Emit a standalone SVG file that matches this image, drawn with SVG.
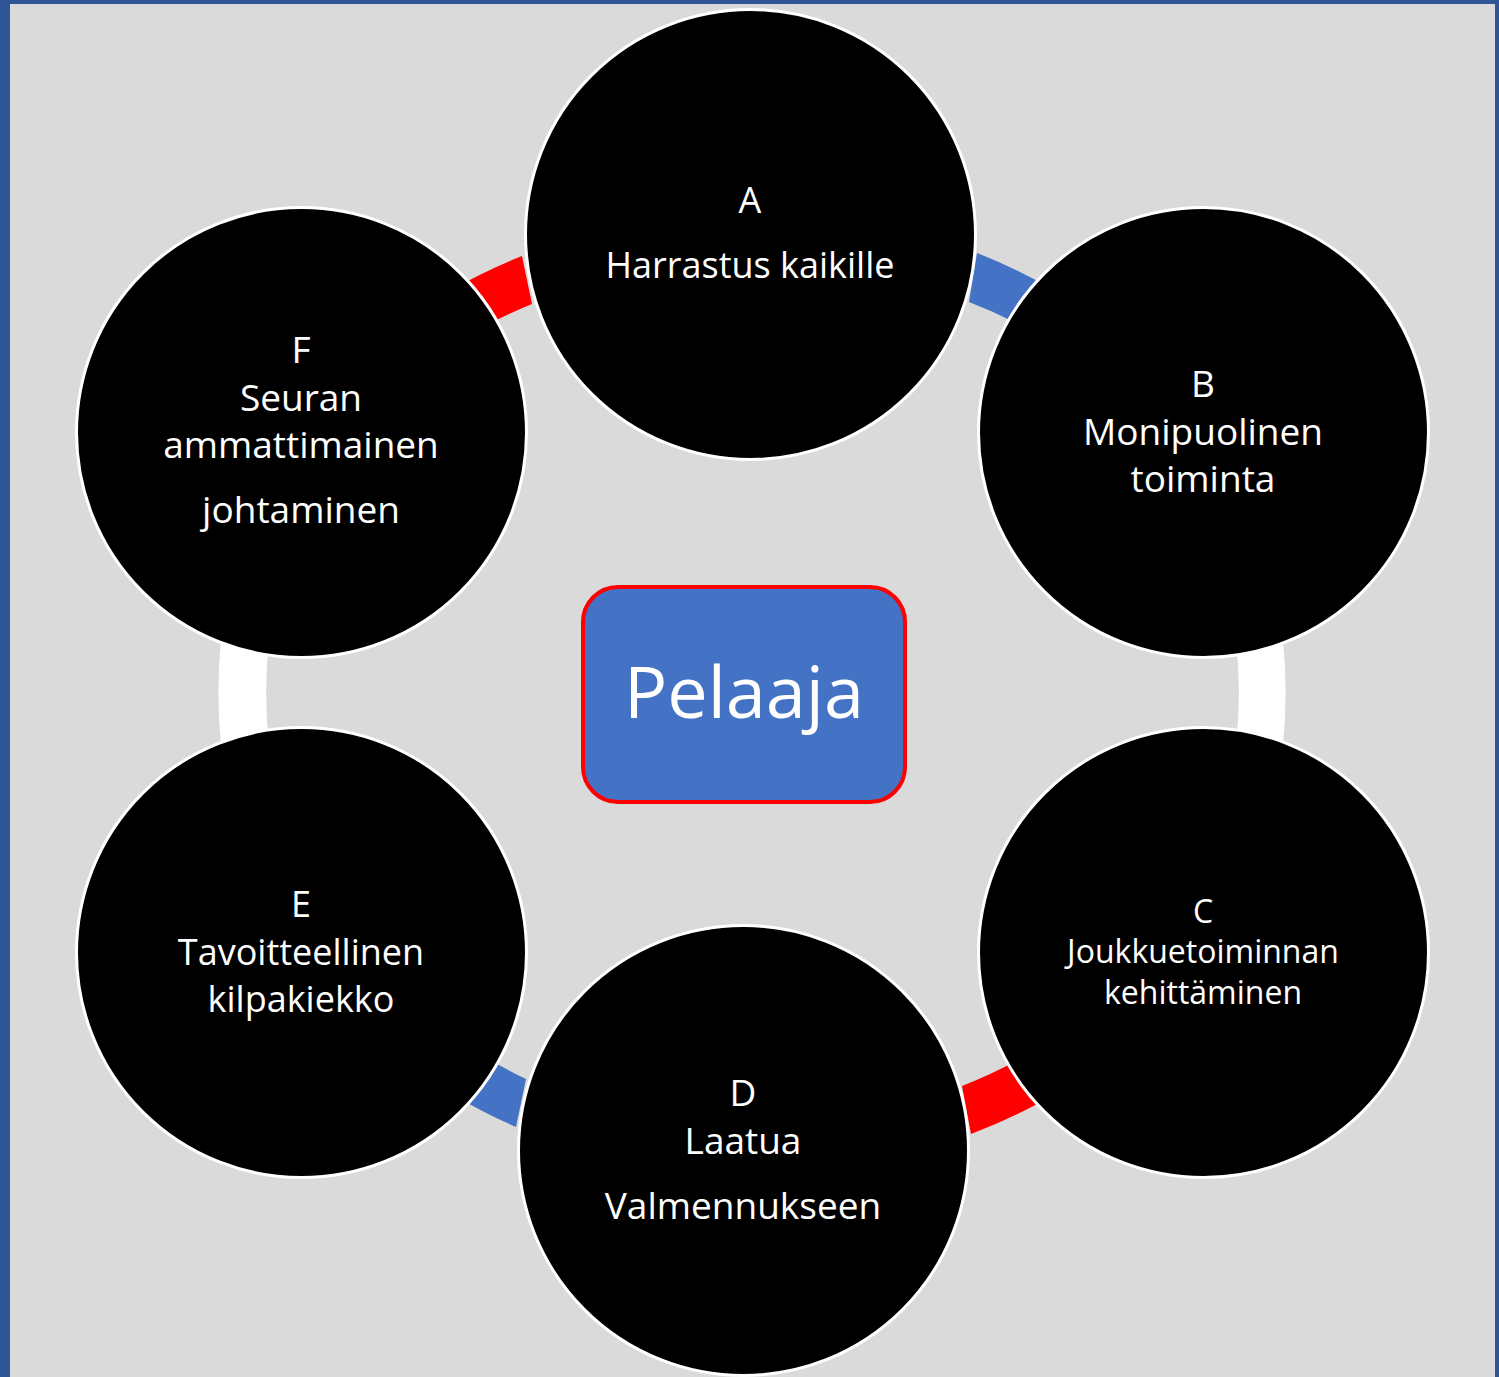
<svg xmlns="http://www.w3.org/2000/svg" width="1499" height="1377" viewBox="0 0 1499 1377">
<style>
.node circle{fill:#000;stroke:#fff;stroke-width:3}
.node text{fill:#fff;font-family:"Open Sans","Noto Sans",sans-serif;text-anchor:middle}
.blue{fill:#4472C4}
.red{fill:#FF0000}
.white{fill:#FFFFFF}
</style>
<rect x="0" y="0" width="1499" height="1377" fill="#DADADA"/>
<g id="frame" fill="#2F5597">
<rect x="0" y="0" width="10" height="1377"/>
<rect x="0" y="0" width="1499" height="4"/>
<rect x="1495" y="0" width="4" height="1377"/>
</g>
<g id="connectors">
<path class="red" d="M455,288 A530,530 0 0 1 522,256 L532,304 A484,484 0 0 0 485,326 Z"/>
<path class="blue" d="M977,253 A530,530 0 0 1 1050,288 L1020,325 A484,484 0 0 0 969,302 Z"/>
<path class="white" d="M1283,640 A531,531 0 0 1 1283,745 L1236,745 A484,484 0 0 0 1236,640 Z"/>
<path class="red" d="M1048,1098 A530,530 0 0 1 971,1134 L962,1086 A484,484 0 0 0 1020,1059 Z"/>
<path class="blue" d="M516,1127 A530,530 0 0 1 457,1097 L487,1058 A484,484 0 0 0 526,1079 Z"/>
<path class="white" d="M221,745 A531,531 0 0 1 221,640 L269,640 A484,484 0 0 0 269,745 Z"/>
</g>
<g id="nodeA" class="node">
<circle cx="750.5" cy="234.5" r="225"/>
<text x="750" y="213" font-size="36">A</text>
<text x="750" y="278" font-size="36">Harrastus kaikille</text>
</g>
<g id="nodeB" class="node">
<circle cx="1203.5" cy="432.5" r="225"/>
<text x="1203" y="397" font-size="37">B</text>
<text x="1203" y="445" font-size="37">Monipuolinen</text>
<text x="1203" y="492" font-size="37">toiminta</text>
</g>
<g id="nodeC" class="node">
<circle cx="1203.5" cy="952.5" r="225"/>
<text x="1203" y="923" font-size="32">C</text>
<text x="1203" y="963" font-size="32">Joukkuetoiminnan</text>
<text x="1203" y="1004" font-size="32">kehittäminen</text>
</g>
<g id="nodeD" class="node">
<circle cx="743.5" cy="1150.5" r="225"/>
<text x="743" y="1106" font-size="37">D</text>
<text x="743" y="1154" font-size="37">Laatua</text>
<text x="743" y="1219" font-size="37">Valmennukseen</text>
</g>
<g id="nodeE" class="node">
<circle cx="301.5" cy="952.5" r="225"/>
<text x="301" y="917" font-size="36">E</text>
<text x="301" y="965" font-size="36">Tavoitteellinen</text>
<text x="301" y="1012" font-size="36">kilpakiekko</text>
</g>
<g id="nodeF" class="node">
<circle cx="301.5" cy="432.5" r="225"/>
<text x="301" y="363" font-size="37">F</text>
<text x="301" y="411" font-size="37">Seuran</text>
<text x="301" y="458" font-size="37">ammattimainen</text>
<text x="301" y="523" font-size="37">johtaminen</text>
</g>
<g id="center">
<rect x="583" y="587" width="322" height="215" rx="35" ry="35" fill="#4472C4" stroke="#FF0000" stroke-width="4"/>
<text x="744" y="718" font-size="72" fill="#fff" text-anchor="middle" font-family="'Open Sans','Noto Sans',sans-serif">Pelaaja</text>
</g>
</svg>
